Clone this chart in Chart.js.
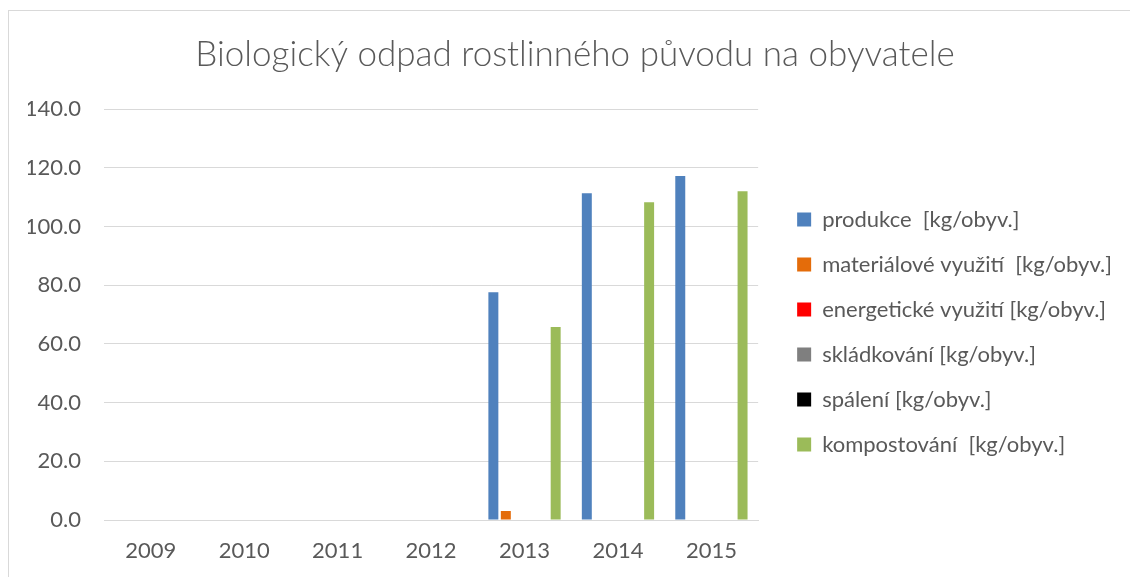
<!DOCTYPE html>
<html>
<head>
<meta charset="utf-8">
<script src="https://cdn.jsdelivr.net/npm/chart.js@4"></script>
<style>
  html, body { margin: 0; padding: 0; background: #fff; overflow: hidden; }
  #ramecek {
    position: absolute;
    left: 8px;
    top: 10px;
    width: 1132px;
    height: 600px;
    border: 1px solid #d9d9d9;
  }
</style>
</head>
<body>
<div id="ramecek">
  <canvas id="odpadChart" width="1132" height="566"></canvas>
</div>
<script>
const roky = ["2009", "2010", "2011", "2012", "2013", "2014", "2015"];

// hodnoty v kg/obyv., prázdné roky = null
const produkce = [null, null, null, null, 77.6, 111.3, 117.2];
const materialoveVyuziti = [null, null, null, null, 3.1, null, null];
const energetickeVyuziti = [null, null, null, null, null, null, null];
const skladkovani = [null, null, null, null, null, null, null];
const spaleni = [null, null, null, null, null, null, null];
const kompostovani = [null, null, null, null, 65.7, 108.2, 112.0];

const popisky = [
  "produkce  [kg/obyv.]",
  "materiálové využití  [kg/obyv.]",
  "energetické využití [kg/obyv.]",
  "skládkování [kg/obyv.]",
  "spálení [kg/obyv.]",
  "kompostování  [kg/obyv.]",
];
const barvy = ["#4f81bd", "#e46c0a", "#ff0000", "#7f7f7f", "#000000", "#9bbb59"];
const rady = [produkce, materialoveVyuziti, energetickeVyuziti, skladkovani, spaleni, kompostovani];

const sedaText = "#595959";
const sedaMrizka = "#d9d9d9";

const ctx = document.getElementById("odpadChart").getContext("2d");

new Chart(ctx, {
  type: "bar",
  data: {
    labels: roky,
    datasets: rady.map((data, i) => ({
      label: popisky[i],
      data: data,
      backgroundColor: barvy[i],
      borderWidth: 0,
      categoryPercentage: 0.8,
      barPercentage: 0.8,
    })),
  },
  options: {
    responsive: false,
    animation: false,
    layout: {
      padding: { left: 19, right: 19, top: 0, bottom: 12 },
    },
    plugins: {
      title: {
        display: true,
        text: "Biologický odpad rostlinného původu na obyvatele",
        color: sedaText,
        font: { family: "Lato", size: 35, weight: "300" },
        padding: { top: 23, bottom: 33 },
      },
      legend: {
        position: "right",
        maxWidth: 400,
        // prázdný titulek legendy jen posune položky dolů
        title: {
          display: true,
          text: " ",
          font: { size: 10 },
          padding: 38,
        },
        labels: {
          color: sedaText,
          font: { family: "Lato", size: 22 },
          boxWidth: 14,
          boxHeight: 14,
          padding: 23,
        },
      },
      tooltip: { enabled: false },
    },
    scales: {
      x: {
        grid: { display: false, drawTicks: false },
        border: { color: sedaMrizka, width: 1 },
        ticks: {
          color: sedaText,
          font: { family: "Lato", size: 22 },
          padding: 18,
        },
        afterFit: (osa) => {
          osa.height = 45;
        },
      },
      y: {
        min: 0,
        max: 140,
        grid: { color: sedaMrizka, lineWidth: 1, drawTicks: false },
        border: { display: false },
        ticks: {
          stepSize: 20,
          color: sedaText,
          font: { family: "Lato", size: 22 },
          padding: 23,
          callback: (v) => v.toFixed(1),
        },
        afterFit: (osa) => {
          osa.width = 76;
        },
      },
      // prázdná osa jen jako mezera mezi grafem a legendou
      mezera: {
        position: "right",
        grid: { display: false },
        border: { display: false },
        ticks: { display: false },
        afterFit: (osa) => {
          osa.width = 16;
        },
      },
    },
  },
});
</script>
</body>
</html>
